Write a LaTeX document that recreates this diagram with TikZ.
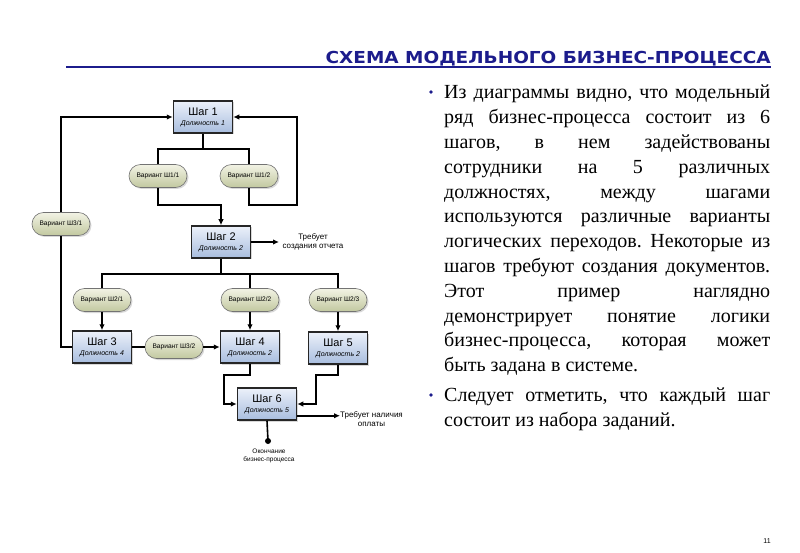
\documentclass[tikz,border=0pt]{standalone}
\usepackage{fontspec}
\setmainfont{Liberation Serif}
\setsansfont{Liberation Sans}
\newfontfamily\titlefont{DejaVu Sans}
\usepackage{tikz}
\usetikzlibrary{calc,shapes.misc,shadows,arrows.meta}
\usepackage{xcolor}
\definecolor{navy}{RGB}{28,28,140}
\definecolor{steptop}{RGB}{236,241,250}
\definecolor{stepbot}{RGB}{168,189,222}
\definecolor{vartop}{RGB}{242,243,228}
\definecolor{varbot}{RGB}{194,200,160}
\newcommand{\dolzh}[1]{{\fontsize{7}{8}\selectfont\itshape #1}}
\newcommand{\nohyph}{\frenchspacing\hyphenpenalty=10000 \exhyphenpenalty=10000 \tolerance=9999 \relax}

\tikzset{
  stepbox/.style={draw=black!85,line width=1.5pt,top color=steptop,bottom color=stepbot,
    minimum width=59pt,minimum height=32pt,inner sep=0pt,align=center,
    font=\sffamily\fontsize{11}{11}\selectfont,
    drop shadow={shadow xshift=1.5pt,shadow yshift=-1.5pt,opacity=.3}},
  variant/.style={rounded rectangle,draw=black!55,line width=.6pt,top color=vartop,bottom color=varbot,
    minimum width=58pt,minimum height=23pt,inner sep=0pt,
    font=\sffamily\fontsize{6.6}{7}\selectfont,
    drop shadow={shadow xshift=1.5pt,shadow yshift=-1.5pt,opacity=.3}},
  wire/.style={line width=1.6pt},
  link/.style={wire,-{Latex[length=6pt,width=5.5pt]}},
  note/.style={font=\sffamily\fontsize{8}{9.5}\selectfont,align=center,inner sep=0pt},
  para/.style={anchor=north west,text width=326pt,align=justify,inner sep=0pt,
    font=\fontsize{20}{24.8}\selectfont}
}

\begin{document}
\begin{tikzpicture}[x=1pt,y=-1pt]
	\useasboundingbox[fill=white] (0,0) rectangle (800,553);
	% заголовок
	\node[anchor=base east,text=navy,inner sep=0pt,font=\titlefont\bfseries\fontsize{16.5}{16.5}\selectfont] (title) at (771,64) {\scalebox{1.12}[1]{СХЕМА МОДЕЛЬНОГО БИЗНЕС-ПРОЦЕССА}};
	\draw[navy,line width=1.3pt] (66,67) -- (title.base east |- 0,67);
	\node[font=\sffamily\fontsize{7}{7}\selectfont] (page) at (767,541) {11};

	% шаги
	\node[stepbox] (s1) at (203,117) {Шаг 1\\[-1pt]\dolzh{Должность 1}};
	\node[stepbox] (s2) at (221,242) {Шаг 2\\[-1pt]\dolzh{Должность 2}};
	\node[stepbox] (s3) at (102,347) {Шаг 3\\[-1pt]\dolzh{Должность 4}};
	\node[stepbox] (s4) at (250,347) {Шаг 4\\[-1pt]\dolzh{Должность 2}};
	\node[stepbox] (s5) at (338,348) {Шаг 5\\[-1pt]\dolzh{Должность 2}};
	\node[stepbox] (s6) at (267,404) {Шаг 6\\[-1pt]\dolzh{Должность 5}};

	% варианты
	\foreach \n/\x/\y/\a/\b in {v11/158/176/1/1,v12/249/176/1/2,v31/61/224/3/1,
	                             v21/102/300/2/1,v22/250/300/2/2,v23/338/300/2/3,v32/174/347/3/2}
	\node[variant] (\n) at (\x,\y) {Вариант Ш\a/\b};

	% пояснения
	\node[note] (t2) at (313,242) {Требует\\создания отчета};
	\node[note,anchor=west] (t6) at (340,419) {Требует наличия\\оплаты};
	\node[note,font=\sffamily\fontsize{6.5}{8}\selectfont] (tend) at (269,456) {Окончание\\бизнес-процесса};
	\fill (268,441) circle (3) coordinate (dot);

	% переходы от шага 1
	\coordinate (b1) at (203,149);
	\coordinate (j1) at (221,205);
	\coordinate (r1) at (297,205);
	\draw[wire] (s1.south) -- (b1);
	\draw[wire] (v11.north) |- (b1) -| (v12.north);
	\draw[link] (v11.south) |- (j1) -- (s2.north);
	\draw[link] (v12.south) |- (r1) |- (s1.east);
	\draw[link] (v31.north) |- (s1.west);
	\draw[wire] (s3.west) -| (v31.south);

	% переходы от шага 2
	\coordinate (b2) at (221,274);
	\draw[link] (s2.east) -- (t2.west -| 279,0);
	\draw[wire] (s2.south) -- (b2);
	\draw[wire] (v21.north) |- (b2) -| (v23.north);
	\draw[wire] (v22.north) -- (v22.north |- b2);
	\foreach \v/\s in {v21/s3,v22/s4,v23/s5}
	\draw[link] (\v.south) -- (\s.north);

	% шаги 3,4,5 -> 6
	\coordinate (k4) at (224,375);
	\coordinate (k5) at (316,375);
	\coordinate (e6) at ($(s6.south east)+(0,-5)$);
	\draw[wire] (s3.east) -- (v32.west);
	\draw[link] (v32.east) -- (s4.west);
	\draw[link] (s4.south) |- (k4) |- (s6.west);
	\draw[link] (s5.south) |- (k5) |- (s6.east);
	\draw[link] (e6) -- (t6.west |- e6);
	\draw[wire] (s6.south) -- (dot);

	% текст справа
	\fill[navy] (431,92) circle (1.8) coordinate (bul1);
	\fill[navy] (431,395) circle (1.8) coordinate (bul2);
	\node[para] (p1) at (444,85)
	  {\nohyph Из диаграммы видно, что модельный\linebreak ряд бизнес-процесса состоит из 6\linebreak шагов, в нем задействованы\linebreak сотрудники на 5 различных\linebreak должностях, между шагами\linebreak используются различные варианты\linebreak логических переходов. Некоторые из\linebreak шагов требуют создания документов.\linebreak Этот пример наглядно\linebreak демонстрирует понятие логики\linebreak бизнес-процесса, которая может\linebreak быть задана в системе.};
	\node[para] (p2) at (444,388)
	  {\nohyph Следует отметить, что каждый шаг\linebreak состоит из набора заданий.};
\end{tikzpicture}
\end{document}
